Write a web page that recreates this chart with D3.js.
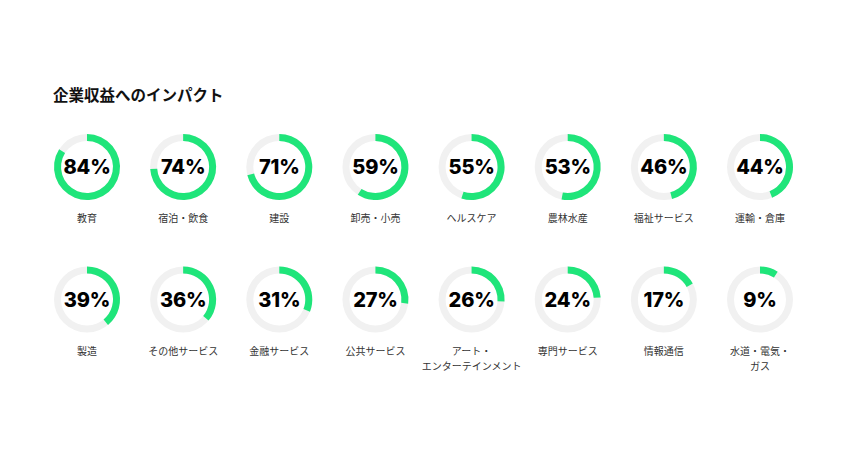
<!DOCTYPE html>
<html>
<head>
<meta charset="utf-8">
<script src="https://cdn.jsdelivr.net/npm/d3@7"></script>
<style>
  html, body { margin: 0; padding: 0; background: #ffffff; }
  svg { display: block; }
</style>
</head>
<body>
<svg id="chart" width="850" height="470"></svg>
<script>
const title = "企業収益へのインパクト";
const categories = [
  "教育", "宿泊・飲食", "建設", "卸売・小売", "ヘルスケア", "農林水産", "福祉サービス", "運輸・倉庫",
  "製造", "その他サービス", "金融サービス", "公共サービス", "アート・\nエンターテインメント", "専門サービス", "情報通信", "水道・電気・\nガス"
];
const values = [84, 74, 71, 59, 55, 53, 46, 44, 39, 36, 31, 27, 26, 24, 17, 9];

const svg = d3.select("#chart");
const W = 850, H = 470;
svg.append("rect").attr("width", W).attr("height", H).attr("fill", "#ffffff");

svg.append("text")
  .attr("x", 53).attr("y", 101)
  .attr("font-family", "'Noto Sans CJK JP', sans-serif")
  .attr("font-weight", 700)
  .attr("font-size", "15.5px")
  .attr("fill", "#111")
  .text(title);

const cols = 8;
const x = d3.scalePoint().domain(d3.range(cols)).range([87, 760]);
const y = d3.scalePoint().domain([0, 1]).range([167, 299.5]);
const angle = d3.scaleLinear().domain([0, 100]).range([0, 2 * Math.PI]);

const outerR = 33, innerR = 26;
const arcGen = d3.arc().innerRadius(innerR).outerRadius(outerR);

const data = categories.map((c, i) => ({ cat: c, val: values[i], col: i % cols, row: Math.floor(i / cols) }));

const g = svg.selectAll("g.donut").data(data).join("g")
  .attr("class", "donut")
  .attr("transform", d => `translate(${x(d.col)},${y(d.row)})`);

g.append("path")
  .attr("d", arcGen({ startAngle: 0, endAngle: 2 * Math.PI }))
  .attr("fill", "#f1f1f1");

g.append("path")
  .attr("d", d => arcGen({ startAngle: 0, endAngle: angle(d.val) }))
  .attr("fill", "#1fe57a");

g.append("text")
  .attr("text-anchor", "middle")
  .attr("dy", "0.36em")
  .attr("font-family", "Inter, sans-serif")
  .attr("font-weight", 800)
  .attr("font-size", "20px")
  .attr("letter-spacing", "-0.2px")
  .attr("fill", "#000")
  .text(d => d.val + "%");

g.each(function(d) {
  const lines = d.cat.split("\n");
  const t = d3.select(this).append("text")
    .attr("text-anchor", "middle")
    .attr("font-family", "'Noto Sans CJK JP', sans-serif")
    .attr("font-size", "10px")
    .attr("fill", "#333");
  lines.forEach((ln, k) => {
    t.append("tspan").attr("x", 0).attr("y", 55 + k * 15).text(ln);
  });
});
</script>
</body>
</html>
